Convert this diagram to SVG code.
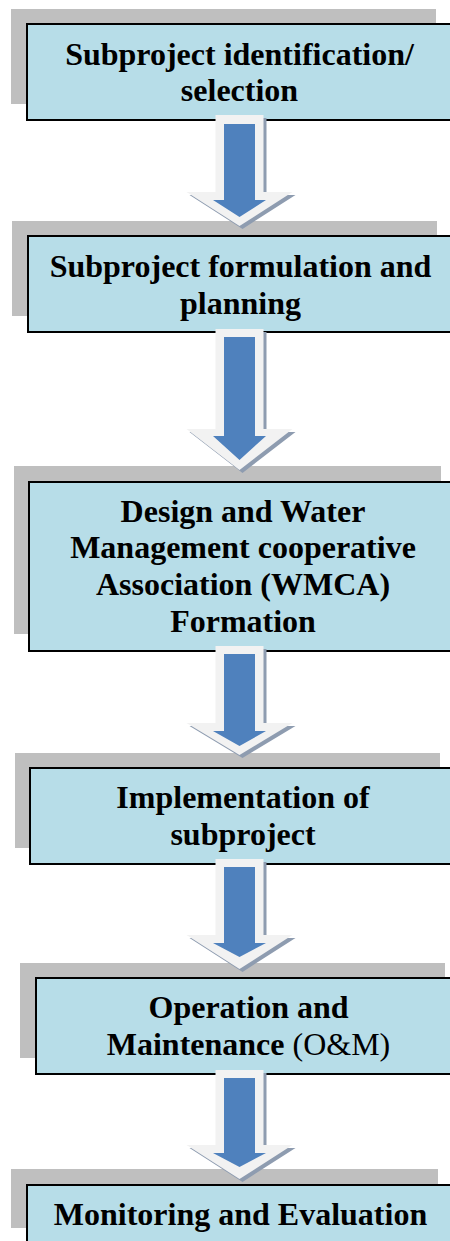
<svg xmlns="http://www.w3.org/2000/svg" width="450" height="1241" viewBox="0 0 450 1241">
  <style>
    .shade { fill: #BFBFBF; }
    .box { fill: #B7DDE8; stroke: #000000; stroke-width: 2; }
    .label { font-family: "Liberation Serif", "Times New Roman", serif; font-size: 32px; font-weight: bold; fill: #000000; text-anchor: middle; }
    .plain { font-weight: normal; }
    .arrow-shadow { fill: #8E9CB0; }
    .arrow-rim { fill: #F2F2F2; }
    .arrow-core { fill: #4F81BD; }
  </style>

  <rect width="450" height="1241" fill="#FFFFFF"/>

  <!-- process steps -->
  <g id="step-identification">
    <rect class="shade" x="11" y="9" width="425" height="95"/>
    <rect class="box" x="27" y="24" width="425" height="96"/>
    <text class="label" x="239.5" y="65">Subproject identification/</text>
    <text class="label" x="239.5" y="101">selection</text>
  </g>

  <g id="step-formulation">
    <rect class="shade" x="12" y="221" width="425" height="95"/>
    <rect class="box" x="28" y="236" width="425" height="96"/>
    <text class="label" x="240.5" y="277">Subproject formulation and</text>
    <text class="label" x="240.5" y="314">planning</text>
  </g>

  <g id="step-design">
    <rect class="shade" x="14" y="466" width="427" height="168"/>
    <rect class="box" x="29" y="482" width="427" height="169"/>
    <text class="label" x="243" y="522">Design and Water</text>
    <text class="label" x="243" y="558">Management cooperative</text>
    <text class="label" x="243" y="595">Association (WMCA)</text>
    <text class="label" x="243" y="632">Formation</text>
  </g>

  <g id="step-implementation">
    <rect class="shade" x="15" y="753" width="425" height="95"/>
    <rect class="box" x="30" y="768" width="425" height="96"/>
    <text class="label" x="243" y="808">Implementation of</text>
    <text class="label" x="243" y="845">subproject</text>
  </g>

  <g id="step-operation">
    <rect class="shade" x="20" y="963" width="425" height="95"/>
    <rect class="box" x="36" y="978" width="425" height="96"/>
    <text class="label" x="248.5" y="1018">Operation and</text>
    <text class="label" x="248.5" y="1055">Maintenance <tspan class="plain">(O&amp;M)</tspan></text>
  </g>

  <g id="step-monitoring">
    <rect class="shade" x="11" y="1169" width="427" height="59"/>
    <rect class="box" x="27" y="1185" width="427" height="70"/>
    <text class="label" x="240.5" y="1225">Monitoring and Evaluation</text>
  </g>

  <!-- block arrows between steps: offset shadow, light rim, blue core -->
  <g id="connectors">
    <g id="arrow-1">
      <polygon class="arrow-shadow" points="218.5,118 266.5,118 266.5,195 295.5,195 242.5,229 189.5,195 218.5,195"/>
      <polygon class="arrow-rim" points="215.5,115 263.5,115 263.5,192 292.5,192 239.5,226 186.5,192 215.5,192"/>
      <polygon class="arrow-core" points="224,124 255,124 255,200 266,200 239.5,217 213,200 224,200"/>
    </g>
    <g id="arrow-2">
      <polygon class="arrow-shadow" points="218.5,332 266.5,332 266.5,432 295.5,432 242.5,473 189.5,432 218.5,432"/>
      <polygon class="arrow-rim" points="215.5,329 263.5,329 263.5,429 292.5,429 239.5,470 186.5,429 215.5,429"/>
      <polygon class="arrow-core" points="224,337 255,337 255,436 266,436 239.5,460 213,436 224,436"/>
    </g>
    <g id="arrow-3">
      <polygon class="arrow-shadow" points="218.5,649 266.5,649 266.5,726 295.5,726 242.5,758 189.5,726 218.5,726"/>
      <polygon class="arrow-rim" points="215.5,646 263.5,646 263.5,723 292.5,723 239.5,755 186.5,723 215.5,723"/>
      <polygon class="arrow-core" points="224,654 255,654 255,731 266,731 239.5,746 213,731 224,731"/>
    </g>
    <g id="arrow-4">
      <polygon class="arrow-shadow" points="218.5,862 266.5,862 266.5,938 295.5,938 242.5,972 189.5,938 218.5,938"/>
      <polygon class="arrow-rim" points="215.5,859 263.5,859 263.5,935 292.5,935 239.5,969 186.5,935 215.5,935"/>
      <polygon class="arrow-core" points="224,867 255,867 255,943 266,943 239.5,957 213,943 224,943"/>
    </g>
    <g id="arrow-5">
      <polygon class="arrow-shadow" points="218.5,1073 266.5,1073 266.5,1148 295.5,1148 242.5,1182 189.5,1148 218.5,1148"/>
      <polygon class="arrow-rim" points="215.5,1070 263.5,1070 263.5,1145 292.5,1145 239.5,1179 186.5,1145 215.5,1145"/>
      <polygon class="arrow-core" points="224,1078 255,1078 255,1153 266,1153 239.5,1167 213,1153 224,1153"/>
    </g>
  </g>
</svg>
